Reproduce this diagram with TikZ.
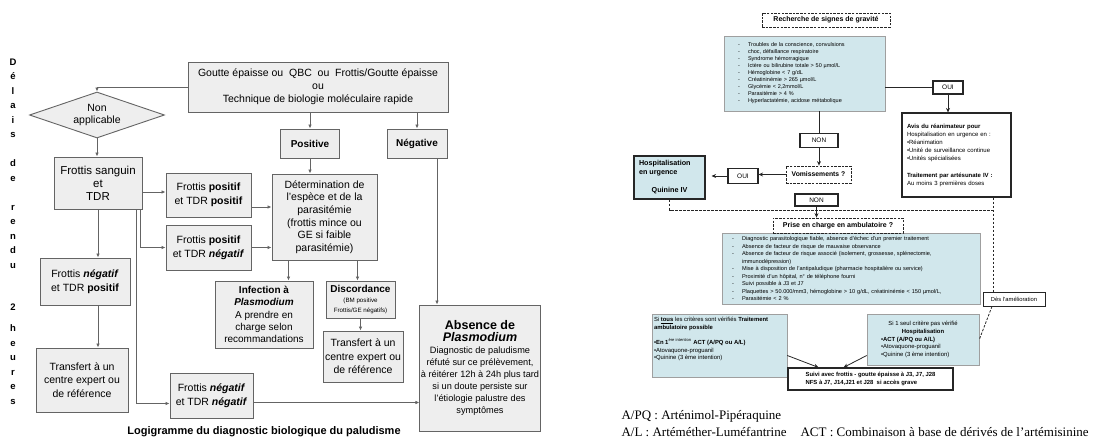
\documentclass[tikz,border=0pt]{standalone}
\usepackage{fontspec}
\setmainfont{Liberation Sans}
\newfontfamily\legfont{Liberation Serif}
\usetikzlibrary{arrows.meta,shapes.geometric}
\definecolor{boxgray}{RGB}{238,238,238}
\definecolor{edgegray}{RGB}{100,100,100}
\definecolor{paleblue}{RGB}{209,231,236}
\newcommand{\sizeto}[2]{\fontsize{#1}{#2}\selectfont}
\newcommand{\dashitem}{\makebox[10pt][l]{-}}
\begin{document}
\begin{tikzpicture}[x=1pt, y=-1pt,
  gbox/.style={draw=edgegray, fill=boxgray, line width=0.9pt, align=center, inner sep=1pt},
  gline/.style={draw=edgegray, line width=0.9pt},
  garrow/.style={gline, -{Latex[length=4pt,width=3.5pt]}},
  bluebox/.style={draw=gray!75, fill=paleblue, line width=0.6pt, inner sep=0pt},
  darkbox/.style={draw=black!85, fill=white, line width=1.1pt, inner sep=0pt},
  dashbox/.style={draw=black!85, fill=white, line width=0.8pt, dash pattern=on 2.5pt off 1.2pt, inner sep=0pt},
  bline/.style={draw=black!85, line width=0.8pt},
  barrow/.style={bline, -{Stealth[length=4.5pt,width=4pt]}},
  bdash/.style={bline, dash pattern=on 2.5pt off 1.5pt}]
\useasboundingbox (0,0) rectangle (1106,441);

% logigramme (gauche)
\node[anchor=north, align=center, inner sep=0pt, font=\bfseries\sizeto{9.5}{14.5}] (delai) at (13,58.5)
  {D\\é\\l\\a\\i\\s\\[14.5pt]d\\e\\[14.5pt]r\\e\\n\\d\\u\\[28pt]2\\[6.5pt]h\\e\\u\\r\\e\\s};
\node[gbox, minimum width=260, minimum height=50, font=\sizeto{10.5}{13}] (depist) at (318,87)
  {Goutte épaisse ou\ \ QBC\ \ ou\ \ Frottis/Goutte épaisse\\ou\\Technique de biologie moléculaire rapide};
\node[gbox, diamond, aspect=2.9, minimum width=135, minimum height=46, inner sep=0pt, font=\sizeto{10.5}{12}] (nonapp) at (97,115) {Non\\applicable};
\node[gbox, minimum width=88, minimum height=52, font=\sizeto{11.5}{13}] (sanguin) at (98,183) {Frottis sanguin\\et\\TDR};
\node[gbox, minimum width=85, minimum height=44, font=\sizeto{10.5}{14}] (pospos) at (208.5,195) {Frottis \textbf{positif}\\et TDR \textbf{positif}};
\node[gbox, minimum width=85, minimum height=45, font=\sizeto{10.5}{14}] (posneg) at (208.5,247.5) {Frottis \textbf{positif}\\et TDR \textbf{\textit{négatif}}};
\node[gbox, minimum width=90, minimum height=47, font=\sizeto{10.5}{14}] (negpos) at (85,281.5) {Frottis \textbf{\textit{négatif}}\\et TDR \textbf{positif}};
\node[gbox, minimum width=92, minimum height=64, font=\sizeto{10.5}{13.5}] (transfA) at (82,380) {Transfert à un\\centre expert ou\\de référence};
\node[gbox, minimum width=83, minimum height=45, font=\sizeto{10.5}{14}] (negneg) at (211.5,395.5) {Frottis \textbf{\textit{négatif}}\\et TDR \textbf{\textit{négatif}}};
\node[gbox, minimum width=59, minimum height=29, font=\bfseries\sizeto{10}{12}] (positive) at (310,143.5) {Positive};
\node[gbox, minimum width=60, minimum height=29, font=\bfseries\sizeto{10}{12}] (negative) at (417,143.5) {Négative};
\node[gbox, minimum width=105, minimum height=86, font=\sizeto{10.5}{12.6}] (especes) at (324.5,217)
  {Détermination de\\l'espèce et de la\\parasitémie\\(frottis mince ou\\GE si faible\\parasitémie)};
\node[gbox, minimum width=98, minimum height=67, font=\sizeto{10}{12.4}] (infection) at (264,314.5)
  {\textbf{Infection à}\\\textbf{\textit{Plasmodium}}\\A prendre en\\charge selon\\recommandations};
\node[gbox, minimum width=69, minimum height=37, font=\sizeto{6.2}{10}] (discord) at (360.5,299.5)
  {{\bfseries\sizeto{10}{12}Discordance}\\(BM positive\\Frottis/GE négatifs)};
\node[gbox, minimum width=80, minimum height=51, font=\sizeto{10.5}{13.5}] (transfB) at (363,356.5) {Transfert à un\\centre expert ou\\de référence};
\node[gbox, minimum width=120, minimum height=126, font=\sizeto{9.2}{12}] (absence) at (480,368)
  {{\bfseries\sizeto{12.5}{12}Absence de}\\{\bfseries\itshape\sizeto{12.5}{12}Plasmodium}\\Diagnostic de paludisme\\réfuté sur ce prélèvement,\\à réitérer 12h à 24h plus tard\\si un doute persiste sur\\l'étiologie palustre des\\symptômes};
\node[font=\bfseries\sizeto{11}{13}] (titre) at (264,432) {Logigramme du diagnostic biologique du paludisme};

\draw[garrow] (depist.west) -| (nonapp.north);
\draw[garrow] (nonapp.south) -- (nonapp.south |- sanguin.north);
\draw[garrow] ([yshift=-9]sanguin.east) -- ([yshift=-9]sanguin.east -| pospos.west);
\draw[garrow] (sanguin.south) -- (sanguin.south |- negpos.north);
\draw[garrow] ([xshift=42]sanguin.south) |- (posneg.west);
\draw[garrow] ([xshift=38]sanguin.south) |- ([yshift=-8]negneg.west);
\draw[garrow] (negpos.south -| sanguin.south) -- (transfA.north -| sanguin.south);
\draw[garrow] (depist.south -| positive.north) -- (positive.north);
\draw[garrow] (depist.south -| negative.north) -- (negative.north);
\draw[garrow] (positive.south) -- (positive.south |- especes.north);
\draw[garrow] ([yshift=-12]pospos.east) -- ([yshift=-12]pospos.east -| especes.west);
\draw[garrow] (posneg.east) -- (posneg.east -| especes.west);
\draw[garrow] ([xshift=-36]especes.south) -- ([xshift=-36]especes.south |- infection.north);
\draw[garrow] ([xshift=33]especes.south) -- ([xshift=33]especes.south |- discord.north);
\draw[garrow] (discord.south) -- (discord.south |- transfB.north);
\draw[garrow] ([xshift=20]negative.south) -- ([xshift=20]negative.south |- absence.north);
\draw[garrow] ([yshift=-7]negneg.east) -- ([yshift=-7]negneg.east -| absence.west);

% prise en charge (droite)
\node[dashbox, minimum width=128, minimum height=14, font=\bfseries\sizeto{7}{8}] (gravite) at (826,20) {Recherche de signes de gravité};
\node[bluebox, text width=133, inner xsep=14, minimum height=75, align=left, font=\sizeto{5.5}{7}] (signes) at (804.5,73.5)
  {\dashitem Troubles de la conscience, convulsions\\
   \dashitem choc, défaillance respiratoire\\
   \dashitem Syndrome hémorragique\\
   \dashitem Ictère ou bilirubine totale > 50 µmol/L\\
   \dashitem Hémoglobine < 7 g/dL\\
   \dashitem Créatininémie > 265 µmol/L\\
   \dashitem Glycémie < 2,2mmol/L\\
   \dashitem Parasitémie > 4 \%\\
   \dashitem Hyperlactatémie, acidose métabolique};
\node[darkbox, minimum width=30, minimum height=13, font=\sizeto{6.5}{7}] (ouiA) at (948,87.5) {OUI};
\node[darkbox, text width=99, inner xsep=5, minimum height=84, align=left, font=\sizeto{6}{8}] (avis) at (956.5,155)
  {\textbf{Avis du réanimateur pour}\\Hospitalisation en urgence en :\\•Réanimation\\•Unité de surveillance continue\\•Unités spécialisées\\[9pt]\textbf{Traitement par artésunate IV :}\\Au moins 3 premières doses};
\node[darkbox, minimum width=38, minimum height=14, font=\sizeto{6.5}{7}] (nonA) at (819,140.5) {NON};
\node[dashbox, minimum width=65, minimum height=17, font=\bfseries\sizeto{6.8}{8}] (vomi) at (818.5,174.5) {Vomissements ?};
\node[darkbox, minimum width=30, minimum height=15, font=\sizeto{6.5}{7}] (ouiB) at (743,176) {OUI};
\node[darkbox, fill=paleblue, minimum width=71, minimum height=43, font=\bfseries\sizeto{7.2}{9}] (hospit) at (669.5,177.5)
  {\parbox{61pt}{Hospitalisation\\en urgence\par\vspace{9pt}\centering Quinine IV}};
\node[darkbox, minimum width=43, minimum height=12, font=\sizeto{6.5}{7}] (nonB) at (816.5,200) {NON};
\node[bluebox, text width=238, inner xsep=10, minimum height=71, align=left, font=\sizeto{5.6}{7.5}] (criteres) at (851,268.5)
  {\dashitem Diagnostic parasitologique fiable, absence d'échec d'un premier traitement\\
   \dashitem Absence de facteur de risque de mauvaise observance\\
   \dashitem Absence de facteur de risque associé (isolement, grossesse, splénectomie,\\
   \makebox[10pt]{}immunodépression)\\
   \dashitem Mise à disposition de l'antipaludique (pharmacie hospitalière ou service)\\
   \dashitem Proximité d'un hôpital, n° de téléphone fourni\\
   \dashitem Suivi possible à J3 et J7\\
   \dashitem Plaquettes > 50.000/mm3, hémoglobine > 10 g/dL, créatininémie < 150 µmol/L,\\
   \dashitem Parasitémie < 2 \%};
\node[dashbox, minimum width=130, minimum height=15, font=\bfseries\sizeto{7}{8}] (ambul) at (838,225.5) {Prise en charge en ambulatoire ?};
\node[bluebox, minimum width=135, minimum height=63, font=\sizeto{5.9}{7.7}] (ambuok) at (719.5,345.5)
  {\parbox[c][57pt][t]{131pt}{Si \textbf{\underline{tous}} les critères sont vérifiés \textbf{Traitement}\\
   \textbf{ambulatoire possible}\\[7.7pt]
   \textbf{•En 1}\textsuperscript{ère intention} \textbf{ACT (A/PQ ou A/L)}\\
   •Atovaquone-proguanil\\
   •Quinine (3 ème intention)}};
\node[bluebox, minimum width=112, minimum height=51, font=\sizeto{5.9}{7.7}] (hospcrit) at (923,339.5)
  {\parbox{84pt}{\centering Si 1 seul critère pas vérifié\\\textbf{Hospitalisation}\par\raggedright
   \textbf{•ACT (A/PQ ou A/L)}\\•Atovaquone-proguanil\\•Quinine (3 ème intention)}};
\node[darkbox, minimum width=165, minimum height=22, align=left, font=\bfseries\sizeto{5.9}{7.5}] (suivi) at (870.5,379)
  {Suivi avec frottis - goutte épaisse à J3, J7, J28\\NFS à J7, J14,J21 et J28\ \ si accès grave};
\node[darkbox, line width=0.9pt, minimum width=62, minimum height=14, font=\sizeto{5.8}{7}] (amelio) at (1014,299) {Dès l'amélioration};
\coordinate (coude) at (993,210);

\draw[bline] (signes.east |- ouiA.west) -- (ouiA.west);
\draw[barrow] (ouiA.south) -- (ouiA.south |- avis.north);
\draw[bline] (nonA.north |- signes.south) -- (nonA.north);
\draw[barrow] (nonA.south) -- (nonA.south |- vomi.north);
\draw[barrow] (vomi.west) -- (vomi.west -| ouiB.east);
\draw[barrow, shorten >=6pt] (ouiB.west) -- (ouiB.west -| hospit.east);
\draw[barrow] (nonB.south) -- (nonB.south |- ambul.north);
\draw[bdash] (hospit.south) |- (coude);
\draw[bdash] (coude |- avis.south) -- (coude |- amelio.north);
\draw[bdash] ([xshift=-22]amelio.south) -- (hospcrit.east);
\draw[barrow] ([yshift=-10]ambuok.east) -- ([xshift=-52]suivi.north);
\draw[barrow] ([yshift=-16]hospcrit.west) -- ([xshift=-27]suivi.north);

\node[anchor=base west, font=\legfont\sizeto{13}{15}] (apq) at (618,419) {A/PQ : Arténimol-Pipéraquine};
\node[anchor=base west, font=\legfont\sizeto{13}{15}] (al) at (618,436) {A/L : Artéméther-Luméfantrine};
\node[anchor=base west, font=\legfont\sizeto{13}{15}] (act) at (797,436) {ACT : Combinaison à base de dérivés de l’artémisinine};
\end{tikzpicture}
\end{document}
